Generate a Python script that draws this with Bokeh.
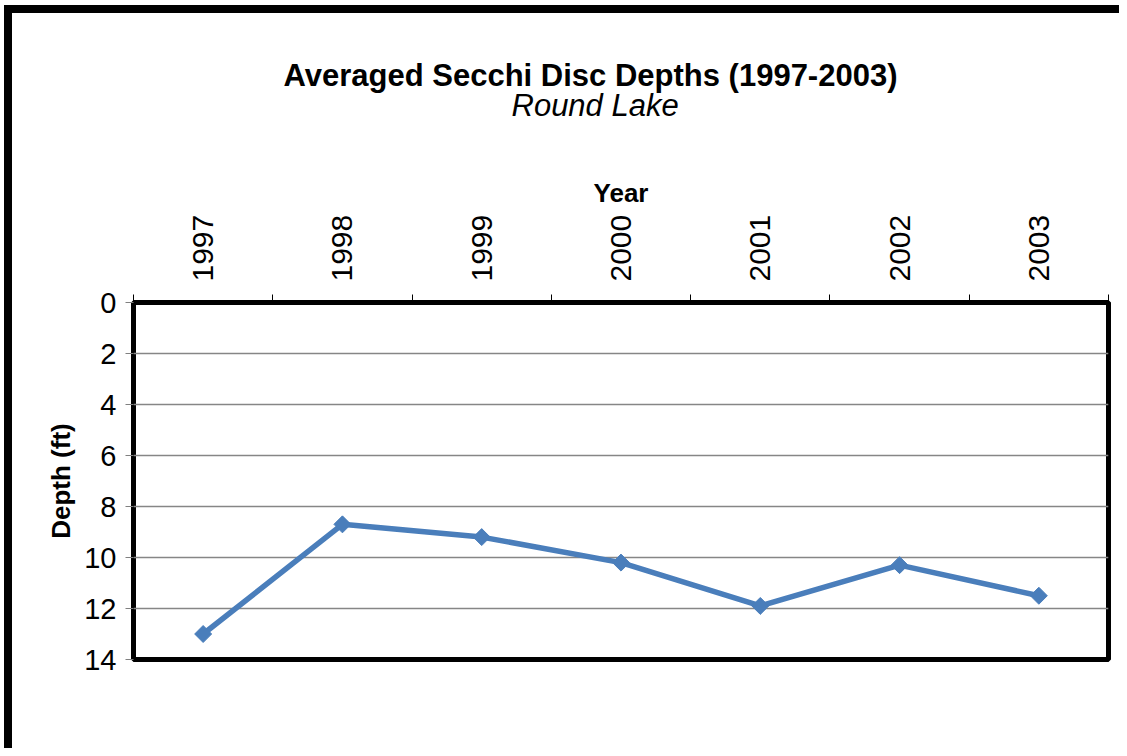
from math import pi
from bokeh.plotting import figure
from bokeh.models import Range1d, LinearAxis, FixedTicker, Title
from bokeh.embed import file_html
from bokeh.resources import INLINE

# ---- data ----
years = ["1997", "1998", "1999", "2000", "2001", "2002", "2003"]
depths = [13.0, 8.7, 9.2, 10.2, 11.9, 10.3, 11.5]
y_ticks = [0, 2, 4, 6, 8, 10, 12, 14]
title_text = "Averaged Secchi Disc Depths (1997-2003)"
subtitle_text = "Round Lake"
x_title = "Year"
y_title = "Depth (ft)"

FONT = "Liberation Sans"
LINE_COLOR = "#4a7ebb"

n = len(years)
centers = [i + 0.5 for i in range(n)]      # category slot centres
edges = list(range(n + 1))                  # category slot boundaries

p = figure(width=1115, height=743,
           x_range=Range1d(0, n), y_range=Range1d(14, 0),
           x_axis_location=None, y_axis_location="left",
           output_backend="svg", toolbar_location=None,
           min_border_left=121, min_border_right=19,
           min_border_top=289, min_border_bottom=97)
p.styles = {"border-left": "8px solid black", "border-top": "8px solid black",
            "margin-left": "4px", "margin-top": "5px"}
p.background_fill_color = "white"
p.border_fill_color = "white"
p.outline_line_color = "black"
p.outline_line_width = 5

# category-boundary ticks (closest to frame)
edge_axis = LinearAxis(ticker=FixedTicker(ticks=edges),
                       major_label_overrides={e: "" for e in edges},
                       major_label_text_font_size="1px",
                       major_label_standoff=0,
                       major_tick_out=8, major_tick_in=0,
                       major_tick_line_color="black", major_tick_line_width=1,
                       minor_tick_line_color=None, axis_line_color=None)
p.add_layout(edge_axis, "above")

cat_axis = LinearAxis(axis_label=x_title,
                      ticker=FixedTicker(ticks=centers),
                      major_label_overrides={c: y for c, y in zip(centers, years)},
                      major_label_orientation=pi / 2,
                      major_label_text_font=FONT,
                      major_label_text_font_size="30px",
                      major_label_text_color="black",
                      major_label_standoff=13,
                      major_tick_out=0, major_tick_in=0,
                      major_tick_line_color=None,
                      minor_tick_line_color=None,
                      axis_line_color=None,
                      axis_label_text_font=FONT,
                      axis_label_text_font_size="26px",
                      axis_label_text_font_style="bold",
                      axis_label_text_color="black",
                      axis_label_standoff=4)
p.add_layout(cat_axis, "above")

# empty spacer between the axis title and the chart subtitle
p.add_layout(Title(text=" ", standoff=48, text_font_size="2px"), "above")
# subtitle then main title
p.add_layout(Title(text=subtitle_text, align="left", offset=378, standoff=0,
                   text_font=FONT, text_font_size="31px", text_font_style="italic",
                   text_color="black"), "above")
p.add_layout(Title(text=title_text, align="left", offset=150, standoff=-15,
                   text_font=FONT, text_font_size="31px", text_font_style="bold",
                   text_color="black"), "above")

yax = p.yaxis[0]
yax.ticker = FixedTicker(ticks=y_ticks)
yax.axis_label = y_title
yax.axis_label_text_font = FONT
yax.axis_label_text_font_size = "26px"
yax.axis_label_text_font_style = "bold"
yax.axis_label_text_color = "black"
yax.axis_label_standoff = 5
yax.major_label_text_font = FONT
yax.major_label_text_font_size = "29px"
yax.major_label_text_color = "black"
yax.major_label_standoff = 9
yax.major_tick_out = 8
yax.major_tick_in = 0
yax.major_tick_line_color = "#808080"
yax.minor_tick_line_color = None
yax.axis_line_color = None

p.xgrid.visible = False
p.ygrid.grid_line_color = "#868686"
p.ygrid.grid_line_width = 1.5

p.line(x=centers, y=depths, line_color=LINE_COLOR, line_width=5.5)
p.scatter(x=centers, y=depths, marker="square", size=12, angle=pi / 4,
          fill_color=LINE_COLOR, line_color=LINE_COLOR)

open("out.html", "w").write(file_html(p, INLINE))
